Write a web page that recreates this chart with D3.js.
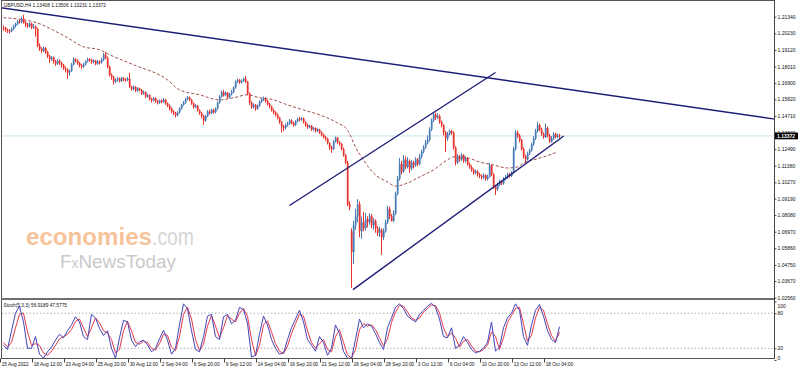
<!DOCTYPE html>
<html><head><meta charset="utf-8">
<script src="https://cdn.jsdelivr.net/npm/d3@7"></script>
<style>body{margin:0;background:#fff}svg{display:block}text{font-family:"Liberation Sans",Arial,sans-serif}</style>
</head><body><svg id="c" width="798" height="372"></svg>
<script>
const symbolTitle = "GBPUSD,H4 1.13408 1.13506 1.13231 1.13372";
const stochTitle = "Stoch(5,3,3) 56.9189 47.5775";
const lastPrice = 1.13372;

const opens = [
1.2062,1.2058,1.2046,1.2040,1.2036,1.2052,1.2070,1.2085,1.2104,1.2098,
1.2120,1.2095,1.2080,1.2070,1.2088,1.2062,1.2068,1.2052,1.1940,1.1920,
1.1905,1.1925,1.1898,1.1870,1.1850,1.1862,1.1835,1.1820,1.1840,1.1825,
1.1810,1.1790,1.1780,1.1760,1.1770,1.1815,1.1850,1.1840,1.1825,1.1810,
1.1800,1.1815,1.1835,1.1850,1.1845,1.1830,1.1840,1.1820,1.1835,1.1828,
1.1845,1.1880,1.1860,1.1800,1.1745,1.1730,1.1700,1.1710,1.1720,1.1705,
1.1725,1.1715,1.1710,1.1720,1.1665,1.1650,1.1665,1.1640,1.1655,1.1645,
1.1620,1.1630,1.1600,1.1610,1.1585,1.1575,1.1590,1.1570,1.1560,1.1575,
1.1565,1.1580,1.1555,1.1540,1.1520,1.1500,1.1490,1.1475,1.1495,1.1520,
1.1545,1.1560,1.1585,1.1595,1.1580,1.1555,1.1530,1.1540,1.1510,1.1490,
1.1470,1.1440,1.1470,1.1500,1.1490,1.1510,1.1495,1.1520,1.1560,1.1600,
1.1630,1.1610,1.1625,1.1595,1.1615,1.1630,1.1660,1.1700,1.1710,1.1695,
1.1705,1.1720,1.1700,1.1620,1.1560,1.1530,1.1545,1.1520,1.1540,1.1565,
1.1580,1.1590,1.1570,1.1550,1.1535,1.1510,1.1495,1.1480,1.1460,1.1430,
1.1400,1.1390,1.1410,1.1420,1.1440,1.1425,1.1410,1.1435,1.1450,1.1445,
1.1455,1.1430,1.1410,1.1395,1.1405,1.1380,1.1390,1.1370,1.1380,1.1360,
1.1345,1.1330,1.1320,1.1290,1.1260,1.1250,1.1300,1.1325,1.1295,1.1285,
1.1250,1.1210,1.1160,1.0880,1.0700,1.0560,1.0740,1.0800,1.0880,1.0700,
1.0760,1.0720,1.0780,1.0760,1.0800,1.0740,1.0770,1.0720,1.0690,1.0710,
1.0660,1.0700,1.0760,1.0850,1.0800,1.0770,1.0820,1.0950,1.1050,1.1150,
1.1100,1.1180,1.1130,1.1170,1.1120,1.1160,1.1140,1.1180,1.1150,1.1200,
1.1230,1.1260,1.1290,1.1310,1.1380,1.1440,1.1480,1.1460,1.1470,1.1430,
1.1410,1.1360,1.1320,1.1350,1.1370,1.1360,1.1260,1.1160,1.1200,1.1180,
1.1210,1.1170,1.1190,1.1150,1.1130,1.1110,1.1090,1.1100,1.1080,1.1070,
1.1060,1.1075,1.1050,1.1065,1.1140,1.1080,1.1000,1.0980,1.1010,1.1030,
1.1020,1.1050,1.1060,1.1080,1.1070,1.1090,1.1250,1.1360,1.1340,1.1310,
1.1250,1.1200,1.1180,1.1220,1.1240,1.1280,1.1320,1.1370,1.1410,1.1380,
1.1350,1.1330,1.1390,1.1340,1.1300,1.1320,1.1350,1.1330,1.13408];

const highs = [
1.2075,1.2066,1.2055,1.2050,1.2062,1.2080,1.2095,1.2112,1.2118,1.2135,
1.2147,1.2105,1.2092,1.2098,1.2095,1.2085,1.2075,1.2060,1.1955,1.1930,
1.1935,1.1932,1.1905,1.1880,1.1872,1.1868,1.1845,1.1850,1.1848,1.1832,
1.1818,1.1800,1.1788,1.1782,1.1825,1.1862,1.1858,1.1848,1.1832,1.1818,
1.1825,1.1842,1.1860,1.1858,1.1852,1.1850,1.1845,1.1845,1.1842,1.1858,
1.1892,1.1900,1.1868,1.1808,1.1755,1.1738,1.1722,1.1730,1.1728,1.1732,
1.1730,1.1722,1.1730,1.1759,1.1672,1.1675,1.1670,1.1662,1.1660,1.1650,
1.1640,1.1635,1.1620,1.1615,1.1592,1.1598,1.1595,1.1578,1.1582,1.1580,
1.1590,1.1585,1.1562,1.1548,1.1528,1.1510,1.1498,1.1502,1.1528,1.1552,
1.1570,1.1592,1.1605,1.1600,1.1585,1.1560,1.1550,1.1545,1.1515,1.1498,
1.1478,1.1478,1.1510,1.1512,1.1520,1.1518,1.1528,1.1568,1.1610,1.1640,
1.1645,1.1635,1.1630,1.1625,1.1645,1.1668,1.1708,1.1720,1.1718,1.1715,
1.1728,1.1738,1.1705,1.1628,1.1568,1.1555,1.1550,1.1548,1.1575,1.1590,
1.1600,1.1595,1.1578,1.1558,1.1540,1.1518,1.1502,1.1488,1.1465,1.1438,
1.1410,1.1420,1.1432,1.1450,1.1448,1.1432,1.1442,1.1460,1.1465,1.1462,
1.1460,1.1435,1.1418,1.1412,1.1410,1.1398,1.1395,1.1388,1.1385,1.1368,
1.1352,1.1338,1.1325,1.1295,1.1270,1.1308,1.1332,1.1330,1.1302,1.1290,
1.1258,1.1215,1.1170,1.0900,1.0720,1.0770,1.0850,1.0915,1.0900,1.0800,
1.0830,1.0822,1.0800,1.0820,1.0815,1.0790,1.0780,1.0735,1.0730,1.0720,
1.0720,1.0775,1.0870,1.0865,1.0815,1.0840,1.0965,1.1070,1.1190,1.1170,
1.1210,1.1200,1.1195,1.1180,1.1175,1.1170,1.1195,1.1190,1.1215,1.1245,
1.1275,1.1310,1.1340,1.1395,1.1455,1.1495,1.1492,1.1488,1.1480,1.1440,
1.1415,1.1370,1.1365,1.1380,1.1378,1.1368,1.1268,1.1215,1.1210,1.1222,
1.1215,1.1200,1.1195,1.1158,1.1140,1.1120,1.1112,1.1108,1.1090,1.1080,
1.1088,1.1080,1.1078,1.1157,1.1148,1.1088,1.1010,1.1025,1.1045,1.1040,
1.1062,1.1075,1.1092,1.1090,1.1102,1.1265,1.1377,1.1372,1.1350,1.1318,
1.1262,1.1212,1.1232,1.1252,1.1292,1.1335,1.1385,1.1431,1.1420,1.1392,
1.1360,1.1420,1.1400,1.1350,1.1335,1.1362,1.1358,1.1352,1.13506];

const lows = [
1.2040,1.2032,1.2025,1.2022,1.2030,1.2045,1.2062,1.2078,1.2088,1.2090,
1.2088,1.2065,1.2058,1.2062,1.2050,1.2052,1.2000,1.1930,1.1905,1.1890,
1.1898,1.1885,1.1858,1.1825,1.1838,1.1820,1.1805,1.1812,1.1812,1.1795,
1.1778,1.1762,1.1719,1.1740,1.1765,1.1808,1.1828,1.1812,1.1795,1.1785,
1.1792,1.1808,1.1828,1.1832,1.1818,1.1822,1.1810,1.1812,1.1815,1.1820,
1.1838,1.1850,1.1790,1.1735,1.1712,1.1680,1.1690,1.1700,1.1695,1.1698,
1.1702,1.1698,1.1702,1.1658,1.1640,1.1642,1.1630,1.1632,1.1635,1.1610,
1.1612,1.1590,1.1592,1.1575,1.1560,1.1568,1.1558,1.1548,1.1552,1.1555,
1.1558,1.1545,1.1530,1.1508,1.1490,1.1478,1.1460,1.1468,1.1488,1.1512,
1.1538,1.1552,1.1575,1.1570,1.1545,1.1520,1.1522,1.1500,1.1478,1.1455,
1.1411,1.1432,1.1462,1.1480,1.1482,1.1485,1.1488,1.1512,1.1552,1.1592,
1.1600,1.1602,1.1585,1.1588,1.1608,1.1622,1.1652,1.1690,1.1685,1.1688,
1.1698,1.1690,1.1610,1.1545,1.1518,1.1520,1.1505,1.1512,1.1532,1.1558,
1.1570,1.1560,1.1540,1.1522,1.1500,1.1482,1.1468,1.1448,1.1418,1.1360,
1.1370,1.1380,1.1400,1.1412,1.1415,1.1398,1.1402,1.1428,1.1435,1.1438,
1.1420,1.1398,1.1385,1.1388,1.1370,1.1372,1.1360,1.1362,1.1350,1.1335,
1.1320,1.1305,1.1280,1.1245,1.1224,1.1242,1.1292,1.1285,1.1272,1.1240,
1.1198,1.1150,1.0868,1.0840,1.0322,1.0480,1.0710,1.0760,1.0660,1.0650,
1.0700,1.0705,1.0725,1.0745,1.0720,1.0710,1.0690,1.0670,1.0662,1.0541,
1.0640,1.0690,1.0750,1.0780,1.0765,1.0760,1.0810,1.0940,1.1040,1.1080,
1.1090,1.1115,1.1120,1.1090,1.1105,1.1120,1.1130,1.1135,1.1140,1.1185,
1.1220,1.1250,1.1280,1.1300,1.1370,1.1430,1.1445,1.1450,1.1420,1.1395,
1.1340,1.1230,1.1305,1.1340,1.1345,1.1245,1.1140,1.1150,1.1165,1.1170,
1.1158,1.1160,1.1138,1.1118,1.1098,1.1078,1.1080,1.1065,1.1055,1.1045,
1.1050,1.1038,1.1040,1.1058,1.1068,1.0985,1.0942,1.0970,1.1000,1.1008,
1.1012,1.1040,1.1050,1.1058,1.1062,1.1085,1.1240,1.1325,1.1295,1.1238,
1.1185,1.1157,1.1172,1.1210,1.1232,1.1270,1.1310,1.1360,1.1368,1.1338,
1.1318,1.1322,1.1328,1.1290,1.1292,1.1310,1.1320,1.1322,1.13231];

const closes = [
1.2058,1.2046,1.2040,1.2036,1.2052,1.2070,1.2085,1.2104,1.2098,1.2120,
1.2095,1.2080,1.2070,1.2088,1.2062,1.2068,1.2052,1.1940,1.1920,1.1905,
1.1925,1.1898,1.1870,1.1850,1.1862,1.1835,1.1820,1.1840,1.1825,1.1810,
1.1790,1.1780,1.1760,1.1770,1.1815,1.1850,1.1840,1.1825,1.1810,1.1800,
1.1815,1.1835,1.1850,1.1845,1.1830,1.1840,1.1820,1.1835,1.1828,1.1845,
1.1880,1.1860,1.1800,1.1745,1.1730,1.1700,1.1710,1.1720,1.1705,1.1725,
1.1715,1.1710,1.1720,1.1665,1.1650,1.1665,1.1640,1.1655,1.1645,1.1620,
1.1630,1.1600,1.1610,1.1585,1.1575,1.1590,1.1570,1.1560,1.1575,1.1565,
1.1580,1.1555,1.1540,1.1520,1.1500,1.1490,1.1475,1.1495,1.1520,1.1545,
1.1560,1.1585,1.1595,1.1580,1.1555,1.1530,1.1540,1.1510,1.1490,1.1470,
1.1440,1.1470,1.1500,1.1490,1.1510,1.1495,1.1520,1.1560,1.1600,1.1630,
1.1610,1.1625,1.1595,1.1615,1.1630,1.1660,1.1700,1.1710,1.1695,1.1705,
1.1720,1.1700,1.1620,1.1560,1.1530,1.1545,1.1520,1.1540,1.1565,1.1580,
1.1590,1.1570,1.1550,1.1535,1.1510,1.1495,1.1480,1.1460,1.1430,1.1400,
1.1390,1.1410,1.1420,1.1440,1.1425,1.1410,1.1435,1.1450,1.1445,1.1455,
1.1430,1.1410,1.1395,1.1405,1.1380,1.1390,1.1370,1.1380,1.1360,1.1345,
1.1330,1.1320,1.1290,1.1260,1.1250,1.1300,1.1325,1.1295,1.1285,1.1250,
1.1210,1.1160,1.0880,1.0860,1.0560,1.0740,1.0800,1.0880,1.0700,1.0760,
1.0720,1.0780,1.0760,1.0800,1.0740,1.0770,1.0720,1.0690,1.0710,1.0660,
1.0700,1.0760,1.0850,1.0800,1.0770,1.0820,1.0950,1.1050,1.1150,1.1100,
1.1180,1.1130,1.1170,1.1120,1.1160,1.1140,1.1180,1.1150,1.1200,1.1230,
1.1260,1.1290,1.1310,1.1380,1.1440,1.1480,1.1460,1.1470,1.1430,1.1410,
1.1360,1.1320,1.1350,1.1370,1.1360,1.1260,1.1160,1.1200,1.1180,1.1210,
1.1170,1.1190,1.1150,1.1130,1.1110,1.1090,1.1100,1.1080,1.1070,1.1060,
1.1075,1.1050,1.1065,1.1140,1.1080,1.1000,1.0980,1.1010,1.1030,1.1020,
1.1050,1.1060,1.1080,1.1070,1.1090,1.1250,1.1360,1.1340,1.1310,1.1250,
1.1200,1.1180,1.1220,1.1240,1.1280,1.1320,1.1370,1.1410,1.1380,1.1350,
1.1330,1.1390,1.1340,1.1300,1.1320,1.1350,1.1330,1.1341,1.13372];

// moving average (read at selected bars)
const maBars = [0,15,32,40,48,53,65,82,88,98,108,115,122,128,133,142,150,158,167,172,176,180,185,192,196,202,208,215,222,225,232,238,245,252,257,260,265,270,277];
const maValues = [1.2127,1.2100,1.1993,1.1933,1.1913,1.1880,1.1813,1.1712,1.1645,1.1612,1.1578,1.1592,1.1612,1.1592,1.1585,1.1545,1.1511,1.1478,1.1424,1.1377,1.1263,1.1176,1.1089,1.1029,1.1002,1.1022,1.1063,1.1110,1.1177,1.1197,1.1190,1.1163,1.1143,1.1123,1.1130,1.1157,1.1177,1.1197,1.1230];

// stochastic, every second bar
const stochK = [
25,18,50,80,92,65,20,20,40,10, 3,14,22,34,44,38,50,60,74,65,
40,35,78,72,54,42,50,20,3,38, 68,65,34,23,31,34,26,14,20,36,
51,34,10,20,60,96,88,50,18,14, 40,75,78,40,35,74,78,62,68,90,
86,63,5,8,45,75,60,35,20,10, 12,35,55,70,85,65,35,25,15,40,
30,8,20,60,45,15,3,2,35,70, 55,62,58,45,30,18,55,72,90,96,
88,75,70,65,78,85,92,97,90,70, 40,38,55,20,25,40,30,18,12,15,
20,30,65,15,22,55,72,80,96,85, 40,25,60,85,95,75,50,35,30,56.92];
const stochD = [
30,22,30,55,78,80,48,25,28,25, 12,8,15,25,36,40,44,52,66,70,
55,40,55,72,64,50,46,35,12,18, 50,66,50,30,27,32,30,20,17,28,
44,42,22,16,40,78,90,70,35,16, 27,58,76,58,38,55,76,70,65,80,
88,75,35,7,25,60,67,48,28,15, 11,24,45,62,78,75,50,30,20,28,
35,18,14,40,52,30,9,3,18,52, 62,58,60,52,38,24,36,64,82,93,
92,82,72,68,72,82,88,94,93,80, 55,40,46,38,22,32,35,24,15,14,
18,25,48,40,18,38,64,76,88,90, 62,32,42,72,90,85,62,42,32,47.58];
const stochBars = d3.range(0, 279, 2);

const priceTicks = [1.21340,1.20230,1.19120,1.18010,1.16900,1.15820,1.14710,1.13600,1.12490,1.11380,1.10270,1.09190,1.08080,1.06970,1.05860,1.04750,1.03670,1.02560];
const stochTicks = [100,80,20,0];
const stochLevels = [80,20];
const timeLabels = ["15 Aug 2022","18 Aug 12:00","23 Aug 04:00","25 Aug 20:00","30 Aug 12:00","2 Sep 04:00","6 Sep 20:00","9 Sep 12:00","14 Sep 04:00","16 Sep 20:00","21 Sep 12:00","26 Sep 04:00","28 Sep 20:00","3 Oct 12:00","6 Oct 04:00","10 Oct 20:00","13 Oct 12:00","18 Oct 04:00"];

// trend lines: [startBar, endBar], [startPrice, endPrice]
const trendBars = [[-1.5, 386.5],[143, 246],[174.75, 280.15]];
const trendPrices = [[1.2194, 1.1448],[1.0872, 1.1761],[1.0310, 1.1337]];

// ---------- drawing ----------
const W = 798, H = 372, R = 774.5;
const BLUE = "#4a7cb6", RED = "#ea3430", NAVY = "#1d1d78";
const svg = d3.select("#c");
const x = d3.scaleLinear().domain([0, 278]).range([3.5, 559.5]);
const y = d3.scaleLinear().domain([1.02560, 1.21340]).range([297.7, 16.7]);
const ys = d3.scaleLinear().domain([0, 100]).range([360, 301.5]);

svg.append("rect").attr("width", W).attr("height", H).attr("fill", "#fff");
const defs = svg.append("defs");
defs.append("clipPath").attr("id", "cm").append("rect").attr("x", 1.5).attr("y", 1).attr("width", R - 1.5).attr("height", 297);
defs.append("clipPath").attr("id", "cs").append("rect").attr("x", 1.5).attr("y", 300).attr("width", R - 1.5).attr("height", 58.5);

// watermark
const wm = svg.append("g");
wm.append("text").attr("x", 26).attr("y", 245).attr("font-size", 24).attr("font-weight", 600).attr("font-family", "'Open Sans', sans-serif")
  .attr("fill", "#f7c39b").attr("textLength", 126).attr("lengthAdjust", "spacingAndGlyphs").text("economies");
wm.append("text").attr("x", 152).attr("y", 245).attr("font-size", 24).attr("font-family", "'Open Sans', sans-serif")
  .attr("fill", "#d6d6d6").attr("textLength", 42).attr("lengthAdjust", "spacingAndGlyphs").text(".com");
const fx = wm.append("text").attr("x", 60).attr("y", 268).attr("font-size", 19).attr("fill", "#c9c9c9")
  .attr("font-family", "'Open Sans', sans-serif").attr("textLength", 116).attr("lengthAdjust", "spacingAndGlyphs");
fx.append("tspan").text("F");
fx.append("tspan").attr("font-size", 14).text("x");
fx.append("tspan").text("NewsToday");

// main panel
const gm = svg.append("g").attr("clip-path", "url(#cm)");
gm.append("line").attr("x1", 1.5).attr("x2", R).attr("y1", y(lastPrice)).attr("y2", y(lastPrice))
  .attr("stroke", "#c4e4e9").attr("stroke-width", 1);

gm.append("path").datum(maValues)
  .attr("d", d3.line().x((d, j) => x(maBars[j])).y(d => y(d)).curve(d3.curveMonotoneX))
  .attr("fill", "none").attr("stroke", "#a0504a").attr("stroke-width", 1).attr("stroke-dasharray", "3,2");

const bars = d3.range(closes.length);
const col = i => closes[i] >= opens[i] ? BLUE : RED;
gm.selectAll("line.wick").data(bars).join("line").attr("class", "wick")
  .attr("x1", i => x(i)).attr("x2", i => x(i))
  .attr("y1", i => y(highs[i])).attr("y2", i => y(lows[i]))
  .attr("stroke", col).attr("stroke-width", 1);
gm.selectAll("rect.body").data(bars).join("rect").attr("class", "body")
  .attr("x", i => x(i) - 0.7).attr("width", 1.8)
  .attr("y", i => y(Math.max(opens[i], closes[i])))
  .attr("height", i => Math.max(0.8, Math.abs(y(opens[i]) - y(closes[i]))))
  .attr("fill", col);

gm.selectAll("line.trend").data(trendBars).join("line").attr("class", "trend")
  .attr("x1", (d) => x(d[0])).attr("x2", d => x(d[1]))
  .attr("y1", (d, k) => y(trendPrices[k][0])).attr("y2", (d, k) => y(trendPrices[k][1]))
  .attr("stroke", NAVY).attr("stroke-width", 1.4);

// stochastic panel
const gs = svg.append("g").attr("clip-path", "url(#cs)");
gs.selectAll("line.lvl").data(stochLevels).join("line").attr("class", "lvl")
  .attr("x1", 1.5).attr("x2", R).attr("y1", d => ys(d)).attr("y2", d => ys(d))
  .attr("stroke", "#9a9a9a").attr("stroke-width", 0.8).attr("stroke-dasharray", "1.5,2");
const sl = d3.line().x((d, j) => x(stochBars[j])).y(d => ys(d));
gs.append("path").datum(stochD).attr("d", sl).attr("fill", "none").attr("stroke", "#e23a4e").attr("stroke-width", 1);
gs.append("path").datum(stochK).attr("d", sl).attr("fill", "none").attr("stroke", "#4444b8").attr("stroke-width", 1);

// frames
svg.append("line").attr("x1", 1).attr("x2", R).attr("y1", 0.5).attr("y2", 0.5).attr("stroke", "#555");
svg.append("line").attr("x1", 1.5).attr("x2", 1.5).attr("y1", 0).attr("y2", 358.5).attr("stroke", "#555");
svg.append("rect").attr("x", 1).attr("y", 298).attr("width", R - 1).attr("height", 2).attr("fill", "#6f6f6f");
svg.append("line").attr("x1", 1).attr("x2", R).attr("y1", 358.5).attr("y2", 358.5).attr("stroke", "#555");
svg.append("line").attr("x1", R).attr("x2", R).attr("y1", 0).attr("y2", 359).attr("stroke", "#444");

// axes
const fsz = 4.8;
const pa = svg.append("g").attr("transform", `translate(${R},0)`)
  .call(d3.axisRight(y).tickValues(priceTicks).tickFormat(d3.format(".5f")).tickSize(2).tickPadding(1));
pa.select(".domain").remove();
pa.selectAll("line").attr("stroke", "#444");
pa.selectAll("text").attr("font-size", 5).attr("fill", "#111").attr("font-family", "'Liberation Sans',Arial,sans-serif");

const sa = svg.append("g").attr("transform", `translate(${R},0)`)
  .call(d3.axisRight(ys).tickValues(stochTicks).tickSize(2).tickPadding(1));
sa.select(".domain").remove();
sa.selectAll("line").attr("stroke", "#444");
sa.selectAll("text").attr("font-size", 5).attr("fill", "#111").attr("font-family", "'Liberation Sans',Arial,sans-serif")
  .attr("dy", d => d === 100 ? "1.2em" : d === 0 ? "-0.1em" : "0.32em");

const tickBars = timeLabels.map((d, k) => k * 16 - 1.75);
const ta = svg.append("g").attr("transform", "translate(0,358.5)")
  .call(d3.axisBottom(x).tickValues(tickBars).tickFormat((d, k) => timeLabels[k]).tickSize(4));
ta.select(".domain").remove();
ta.selectAll("line").attr("stroke", "#444");
ta.selectAll("text").attr("font-size", fsz).attr("fill", "#111").attr("text-anchor", "start")
  .attr("x", 1.2).attr("y", 4.2).attr("dy", "0.71em").attr("font-family", "'Liberation Sans',Arial,sans-serif");

// current price box
const py = y(lastPrice);
svg.append("rect").attr("x", R + 0.5).attr("y", py - 3.4).attr("width", W - R).attr("height", 6.8).attr("fill", "#000");
svg.append("text").attr("x", R + 2.5).attr("y", py).attr("dy", "0.34em").attr("font-size", 5).attr("fill", "#fff")
  .attr("font-weight", "bold").text(d3.format(".5f")(lastPrice));

// titles
svg.append("text").attr("x", 3.5).attr("y", 5.2).attr("dy", "0.34em").attr("font-size", fsz).attr("fill", "#111").text(symbolTitle);
svg.append("text").attr("x", 3.5).attr("y", 305).attr("dy", "0.34em").attr("font-size", fsz).attr("fill", "#111").text(stochTitle);
</script>
</body></html>
